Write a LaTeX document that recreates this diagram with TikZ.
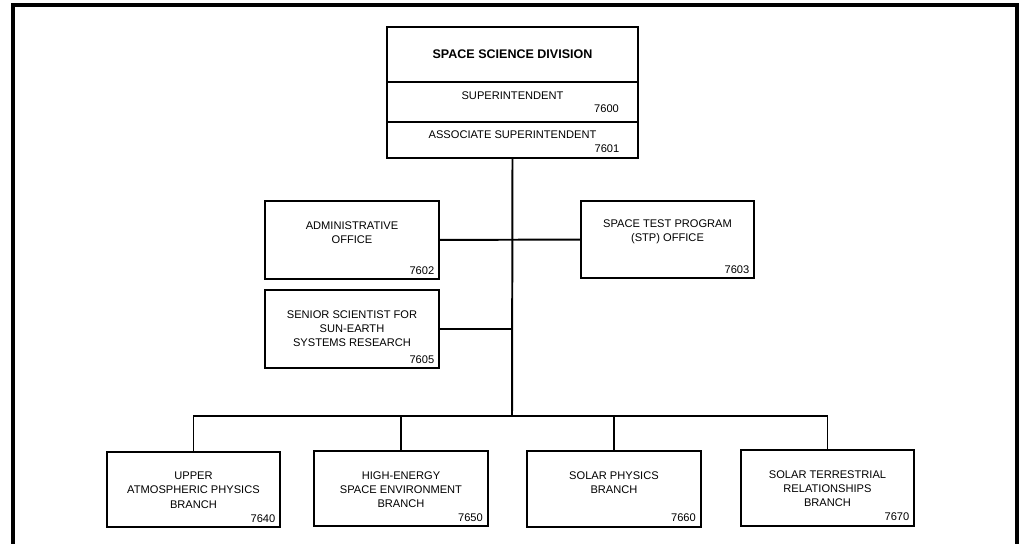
\documentclass[tikz,border=0pt]{standalone}
\usepackage{fontspec}
\setmainfont{Liberation Sans}
\usetikzlibrary{positioning}
\newcommand{\orgfont}{\fontsize{7.9pt}{10pt}\selectfont}
\tikzset{
    unit/.style={draw, line width=1.4pt, minimum width=4.35cm, minimum height=1.95cm, inner sep=0pt},
    branch/.style={unit, minimum width=4.33cm, minimum height=1.88cm},
    head/.style={unit, minimum width=6.28cm},
    title/.style={anchor=north, align=center, inner sep=0pt, yshift=-15pt, font=\orgfont},
    code/.style={anchor=south east, inner sep=0pt, xshift=-3.9pt, yshift=3.9pt, font=\orgfont},
    link/.style={line width=1.4pt},
    frame/.style={line width=2.2pt}
}
\begin{document}
\begin{tikzpicture}[x=0.025cm, y=-0.025cm]
    \useasboundingbox (0,0) rectangle (1020,544);
    % outer frame, open at the bottom
    \draw[frame] (13,550) -- (13,5) -- (1017,5) -- (1017,550);
    % division head
    \node[head, minimum height=1.375cm, font=\fontsize{8.9pt}{10pt}\selectfont\bfseries] (div) at (512.5,54.5) {SPACE SCIENCE DIVISION};
    \node[head, minimum height=1cm, label={[title, yshift=7.9pt]north:SUPERINTENDENT}, label={[code, xshift=-10.3pt, yshift=3.2pt]south east:7600}] (supt) at (512.5,102) {};
    \node[head, minimum height=0.9cm, label={[title, yshift=8.6pt]north:ASSOCIATE SUPERINTENDENT}, label={[code, xshift=-10pt, yshift=0.4pt]south east:7601}] (assoc) at (512.5,140) {};
    % staff offices
    \node[unit, label={[title]north:ADMINISTRATIVE\\OFFICE}, label={[code]south east:7602}] (admin) at (352,240) {};
    \node[unit, minimum width=4.33cm, minimum height=1.93cm, label={[title, yshift=1pt]north:SPACE TEST PROGRAM\\(STP) OFFICE}, label={[code]south east:7603}] (stp) at (667.5,239.5) {};
    \node[unit, label={[title]north:SENIOR SCIENTIST FOR\\SUN-EARTH\\SYSTEMS RESEARCH}, label={[code]south east:7605}] (senior) at (352,329) {};
    % branches
    \node[branch, label={[title]north:UPPER\\ATMOSPHERIC PHYSICS\\BRANCH}, label={[code]south east:7640}] (br1) at (193.5,489.5) {};
    \node[branch, label={[title]north:HIGH-ENERGY\\SPACE ENVIRONMENT\\BRANCH}, label={[code]south east:7650}] (br2) at (401,488.5) {};
    \node[branch, label={[title]north:SOLAR PHYSICS\\BRANCH}, label={[code]south east:7660}] (br3) at (614,489) {};
    \node[branch, label={[title]north:SOLAR TERRESTRIAL\\RELATIONSHIPS\\BRANCH}, label={[code]south east:7670}] (br4) at (827.5,488) {};
    \coordinate (bus) at (512,416);
    % connectors
    \draw[link] (assoc.south) -- (bus);
    \draw[link] (admin) -- (stp);
    \draw[link] (senior.east) -- (senior.east -| bus);
    \draw[link] (br1.north) |- (bus) -| (br4.north);
    \foreach \b in {br2,br3}
        \draw[link] (\b.north) -- (\b.north |- bus);
\end{tikzpicture}
\end{document}
